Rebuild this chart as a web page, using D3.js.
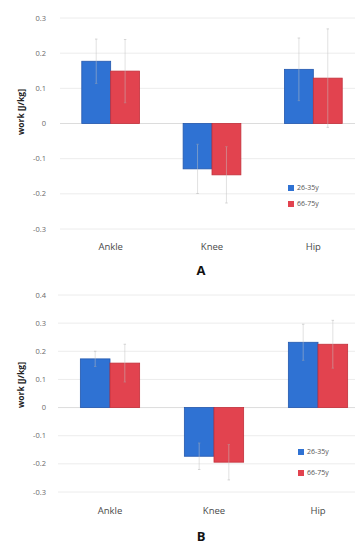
<!DOCTYPE html>
<html lang="en">
  <head>
    <meta charset="UTF-8" />
    <title>Joint work by age group</title>
    <script src="https://d3js.org/d3.v7.min.js"></script>
    <style>
      body {
        margin: 0;
        background: #fff;
      }
      svg {
        display: block;
        font-family: "Open Sans", "Liberation Sans", sans-serif;
      }
    </style>
  </head>
  <body>
    <div id="chart"></div>
    <script>
      const joints = ["Ankle", "Knee", "Hip"];
      const groups = ["26-35y", "66-75y"];

      // panel A
      const meanA_young = [0.177, -0.129, 0.154];
      const meanA_old = [0.149, -0.146, 0.129];
      const sdA_young = [0.063, 0.07, 0.089];
      const sdA_old = [0.09, 0.08, 0.14];
      const ticksA = [0.3, 0.2, 0.1, 0, -0.1, -0.2, -0.3];

      // panel B
      const meanB_young = [0.173, -0.173, 0.232];
      const meanB_old = [0.158, -0.194, 0.225];
      const sdB_young = [0.027, 0.047, 0.064];
      const sdB_old = [0.067, 0.063, 0.085];
      const ticksB = [0.4, 0.3, 0.2, 0.1, 0, -0.1, -0.2, -0.3];

      const colors = { "26-35y": "#2f72d3", "66-75y": "#e2434f" };
      const strokes = { "26-35y": "#2458ad", "66-75y": "#c2303b" };

      const width = 355,
        height = 545;

      const svg = d3
        .select("#chart")
        .append("svg")
        .attr("width", width)
        .attr("height", height);

      function drawPanel(opts) {
        const g = svg.append("g");
        const y = d3.scaleLinear().domain(opts.domain).range(opts.yRange);
        const x = d3
          .scaleBand()
          .domain(joints)
          .range(opts.xRange)
          .paddingInner(0.43)
          .paddingOuter(0.215);
        const xs = d3
          .scaleBand()
          .domain(groups)
          .range([0, x.bandwidth()]);

        // gridlines
        g.selectAll(".grid")
          .data(opts.ticks)
          .join("line")
          .attr("x1", opts.xRange[0])
          .attr("x2", width)
          .attr("y1", (d) => y(d))
          .attr("y2", (d) => y(d))
          .attr("stroke", (d) => (d === 0 ? "#dcdcdc" : "#ececec"))
          .attr("stroke-width", 1);

        // tick labels
        g.selectAll(".tick")
          .data(opts.ticks)
          .join("text")
          .attr("x", 46)
          .attr("y", (d) => y(d))
          .attr("dy", "0.35em")
          .attr("text-anchor", "end")
          .attr("font-size", 7.5)
          .attr("fill", "#6a6a6a")
          .text((d) => (d === 0 ? "0" : d.toFixed(1)));

        const rows = [];
        joints.forEach((j, i) => {
          rows.push({ joint: j, group: groups[0], mean: opts.young[i], sd: opts.sdYoung[i] });
          rows.push({ joint: j, group: groups[1], mean: opts.old[i], sd: opts.sdOld[i] });
        });

        // bars
        g.selectAll(".bar")
          .data(rows)
          .join("rect")
          .attr("x", (d) => x(d.joint) + xs(d.group))
          .attr("width", xs.bandwidth())
          .attr("y", (d) => y(Math.max(0, d.mean)))
          .attr("height", (d) => Math.abs(y(d.mean) - y(0)))
          .attr("fill", (d) => colors[d.group])
          .attr("stroke", (d) => strokes[d.group])
          .attr("stroke-width", 0.8);

        // error bars (mean +/- sd), faint gray
        const eb = g
          .selectAll(".err")
          .data(rows)
          .join("g")
          .attr("transform", (d) => `translate(${x(d.joint) + xs(d.group) + xs.bandwidth() / 2},0)`)
          .attr("opacity", 0.6);
        eb.append("line")
          .attr("y1", (d) => y(d.mean - d.sd))
          .attr("y2", (d) => y(d.mean + d.sd))
          .attr("stroke", "#c4c4c4")
          .attr("stroke-width", 0.8);
        eb.selectAll(".cap")
          .data((d) => [d.mean - d.sd, d.mean + d.sd])
          .join("line")
          .attr("x1", -1.2)
          .attr("x2", 1.2)
          .attr("y1", (v) => y(v))
          .attr("y2", (v) => y(v))
          .attr("stroke", "#a8a8a8")
          .attr("stroke-width", 0.8);

        // category labels
        g.selectAll(".cat")
          .data(joints)
          .join("text")
          .attr("x", (d) => x(d) + x.bandwidth() / 2)
          .attr("y", opts.catY)
          .attr("text-anchor", "middle")
          .attr("font-size", 9.5)
          .attr("fill", "#4a4a4a")
          .text((d) => d);

        // y axis title
        g.append("text")
          .attr("transform", `translate(24,${opts.titleY}) rotate(-90)`)
          .attr("text-anchor", "middle")
          .attr("font-size", 8.5)
          .attr("font-weight", "bold")
          .attr("fill", "#222")
          .text("work [J/kg]");

        // legend
        const lg = g
          .selectAll(".leg")
          .data(groups)
          .join("g")
          .attr("transform", (d, i) => `translate(${opts.legX},${opts.legY + i * opts.legStep})`);
        lg.append("rect")
          .attr("x", -3)
          .attr("y", -3)
          .attr("width", 6)
          .attr("height", 6)
          .attr("fill", (d) => colors[d]);
        lg.append("text")
          .attr("x", 6)
          .attr("dy", "0.35em")
          .attr("font-size", 7)
          .attr("fill", "#555")
          .text((d) => d);

        // panel letter
        g.append("text")
          .attr("x", opts.letterX)
          .attr("y", opts.letterY)
          .attr("text-anchor", "middle")
          .attr("font-size", 13)
          .attr("font-weight", "bold")
          .attr("fill", "#111")
          .text(opts.letter);
      }

      drawPanel({
        domain: [-0.3, 0.3],
        yRange: [229, 18],
        xRange: [60, 364],
        ticks: ticksA,
        young: meanA_young,
        old: meanA_old,
        sdYoung: sdA_young,
        sdOld: sdA_old,
        catY: 250,
        titleY: 112,
        legX: 291,
        legY: 188,
        legStep: 16,
        letter: "A",
        letterX: 201,
        letterY: 275,
      });

      drawPanel({
        domain: [-0.3, 0.4],
        yRange: [492, 295],
        xRange: [58, 370],
        ticks: ticksB,
        young: meanB_young,
        old: meanB_old,
        sdYoung: sdB_young,
        sdOld: sdB_old,
        catY: 514,
        titleY: 385,
        legX: 301,
        legY: 452,
        legStep: 21,
        letter: "B",
        letterX: 201,
        letterY: 541,
      });
    </script>
  </body>
</html>
